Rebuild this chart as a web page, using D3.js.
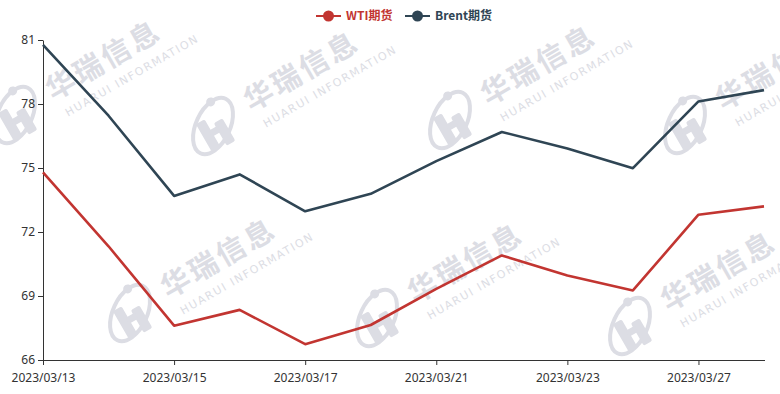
<!DOCTYPE html>
<html>
<head>
<meta charset="utf-8">
<script src="https://cdn.jsdelivr.net/npm/d3@7"></script>
<style>
  html, body { margin: 0; padding: 0; background: #fff; }
  svg { display: block; font-family: "Microsoft YaHei", "Noto Sans CJK SC", "DejaVu Sans", sans-serif; }
</style>
</head>
<body>
<svg id="chart" width="780" height="394"></svg>
<script>
// ---- data ----
const dates = ["2023/03/13","2023/03/14","2023/03/15","2023/03/16","2023/03/17","2023/03/20",
               "2023/03/21","2023/03/22","2023/03/23","2023/03/24","2023/03/27","2023/03/28"];
const wti   = [74.80, 71.33, 67.61, 68.35, 66.74, 67.64, 69.33, 70.90, 69.96, 69.26, 72.81, 73.20];
const brent = [80.77, 77.45, 73.69, 74.70, 72.97, 73.79, 75.32, 76.69, 75.91, 74.99, 78.12, 78.65];
const seriesNames = ["WTI期货", "Brent期货"];
const yTicks = [66, 69, 72, 75, 78, 81];

// ---- layout ----
const W = 780, H = 394;
const m = { left: 43, right: 16, top: 40, bottom: 34 };
const colors = ["#c23531", "#2f4554"];
const svg = d3.select("#chart");

// ---- watermark ----
const wmPos = [[15,115],[213,126],[450,120],[685,125],[130,313],[377,318],[630,326]];
const wmColor = "#dcdde4";
const wm = svg.append("g");
wmPos.forEach(([x, y]) => {
  const g = wm.append("g").attr("transform", `translate(${x},${y}) rotate(-30)`);
  // logo
  g.append("ellipse").attr("cx", 0).attr("cy", 0).attr("rx", 30).attr("ry", 17)
    .attr("transform", "rotate(-35)")
    .attr("fill", "none").attr("stroke", wmColor).attr("stroke-width", 4);
  g.append("rect").attr("x", -14).attr("y", -10).attr("width", 10).attr("height", 32).attr("rx", 2).attr("fill", wmColor);
  g.append("rect").attr("x", 2).attr("y", -2).attr("width", 10).attr("height", 26).attr("rx", 2).attr("fill", wmColor);
  g.append("rect").attr("x", -6).attr("y", 2).attr("width", 10).attr("height", 7).attr("fill", wmColor);
  g.append("circle").attr("cx", 10).attr("cy", -22).attr("r", 4.5).attr("fill", wmColor);
  g.append("text").attr("x", 40).attr("y", 7).attr("fill", wmColor)
    .attr("font-size", 29).attr("font-weight", "bold").attr("letter-spacing", 3)
    .attr("font-family", "Noto Sans CJK SC, sans-serif").text("华瑞信息");
  g.append("text").attr("x", 45).attr("y", 28).attr("fill", wmColor)
    .attr("font-size", 11).attr("letter-spacing", 1.6)
    .attr("font-family", "DejaVu Sans, sans-serif").text("HUARUI INFORMATION");
});

// ---- scales ----
const x = d3.scalePoint().domain(dates).range([m.left, 764]);
const y = d3.scaleLinear().domain([66, 81]).range([360, 40]);

// ---- axes ----
const labelDates = dates.filter((d, i) => i % 2 === 0);
const xAxis = svg.append("g").attr("transform", `translate(0,360)`)
  .call(d3.axisBottom(x).tickValues(labelDates).tickSize(5).tickPadding(8).tickSizeOuter(0));
xAxis.select(".domain").attr("d", `M${m.left},0.5H765`);
const yAxis = svg.append("g").attr("transform", `translate(${m.left},0)`)
  .call(d3.axisLeft(y).tickValues(yTicks).tickSize(5).tickPadding(3).tickSizeOuter(0));
[xAxis, yAxis].forEach(a => {
  a.select(".domain").attr("stroke", "#333");
  a.selectAll(".tick line").attr("stroke", "#333");
  a.selectAll(".tick text").attr("fill", "#333").attr("font-size", 12)
    .attr("font-family", "Microsoft YaHei, Noto Sans, DejaVu Sans, sans-serif");
});

// ---- lines ----
const line = d3.line().x((d, i) => x(dates[i])).y(d => y(d));
[wti, brent].forEach((s, k) => {
  svg.append("path").datum(s).attr("d", line)
    .attr("fill", "none").attr("stroke", colors[k]).attr("stroke-width", 2.6)
    .attr("stroke-linejoin", "round");
});

// ---- legend ----
const legendX = [316, 405];
seriesNames.forEach((n, k) => {
  const g = svg.append("g").attr("transform", `translate(${legendX[k]},16)`);
  g.append("line").attr("x1", 0).attr("x2", 25).attr("y1", 0).attr("y2", 0)
    .attr("stroke", colors[k]).attr("stroke-width", 2);
  g.append("circle").attr("cx", 12.5).attr("cy", 0).attr("r", 5.5).attr("fill", colors[k]);
  g.append("text").attr("x", 30).attr("y", 0).attr("dy", "0.36em")
    .attr("fill", colors[k]).attr("font-size", 12).attr("font-weight", "bold")
    .attr("font-family", "Noto Sans CJK SC, sans-serif").text(n);
});
</script>
</body>
</html>
